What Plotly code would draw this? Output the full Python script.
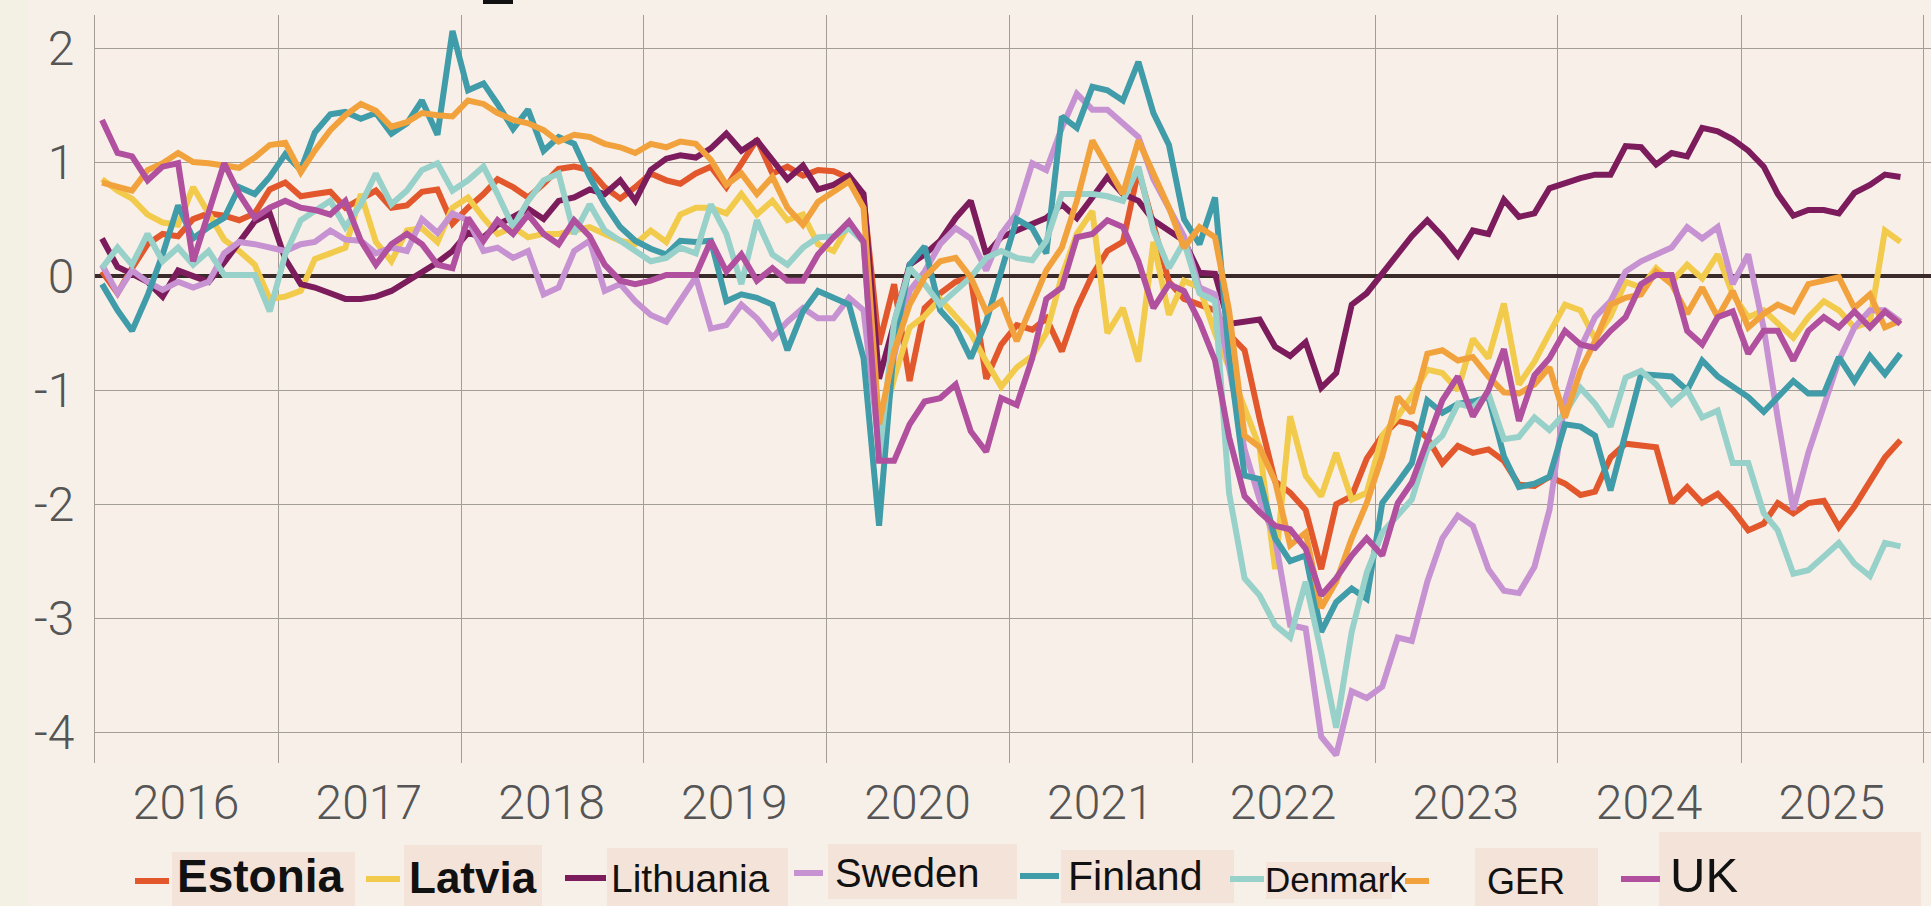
import plotly.graph_objects as go
import pandas as pd

# monthly observations, Jan 2016 .. Nov 2025 (mid-month)
months = pd.date_range("2016-01-01", periods=119, freq="MS") + pd.Timedelta(days=14)

estonia = [
    0.04, -0.15, 0.07, 0.28, 0.37, 0.35, 0.5, 0.55, 0.53, 0.49, 0.55, 0.76,
    0.82, 0.7, 0.72, 0.74, 0.6, 0.68, 0.75, 0.6, 0.62, 0.74, 0.76, 0.46,
    0.6, 0.72, 0.85, 0.78, 0.69, 0.81, 0.94, 0.96, 0.93, 0.78, 0.68, 0.78,
    0.9, 0.84, 0.81, 0.9, 0.96, 0.78, 0.99, 1.2, 0.9, 0.96, 0.88, 0.93,
    0.92, 0.86, 0.69, -0.6, -0.07, -0.92, -0.28, -0.15, -0.05, -0.01, -0.9, -0.6,
    -0.43, -0.47, -0.37, -0.66, -0.28, 0.01, 0.22, 0.3, 0.93, 0.45, -0.05, -0.2,
    -0.25, -0.3, -0.51, -0.65, -1.25, -1.8, -1.9, -2.05, -2.57, -2.0, -1.93, -1.6,
    -1.4, -1.27, -1.3, -1.42, -1.64, -1.49, -1.55, -1.52, -1.62, -1.83, -1.84, -1.76,
    -1.82, -1.92, -1.89, -1.59, -1.47, -1.48, -1.5, -1.99, -1.85, -1.99, -1.91, -2.05,
    -2.23, -2.17, -1.99, -2.08, -1.99, -1.97, -2.2, -2.02, -1.79, -1.59, -1.44,
]
latvia = [
    0.85, 0.75, 0.68, 0.54, 0.47, 0.45, 0.78, 0.55, 0.32, 0.22, 0.1, -0.2,
    -0.18, -0.13, 0.15, 0.2, 0.25, 0.72, 0.3, 0.13, 0.4, 0.42, 0.3, 0.6,
    0.69, 0.51, 0.37, 0.43, 0.34, 0.37, 0.37, 0.4, 0.43, 0.37, 0.31, 0.28,
    0.4, 0.3, 0.54, 0.6, 0.6, 0.55, 0.72, 0.54, 0.66, 0.49, 0.54, 0.28,
    0.22, 0.45, 0.3, -1.4, -0.9, -0.45, -0.35, -0.2, -0.35, -0.5, -0.75, -0.97,
    -0.8, -0.7, -0.5, 0.0, 0.37, 0.57, -0.5, -0.28, -0.75, 0.3, -0.34, -0.04,
    -0.1, -0.5, -0.8, -1.15, -1.5, -2.57, -1.23, -1.75, -1.93, -1.55, -1.96, -1.9,
    -1.4, -1.23, -1.05, -0.82, -0.85, -1.0, -0.55, -0.72, -0.24, -0.95, -0.75, -0.5,
    -0.25, -0.3, -0.55, -0.35, -0.05, -0.1, 0.07, -0.05, 0.1, -0.02, 0.19, -0.16,
    -0.36, -0.3, -0.42, -0.54, -0.36, -0.22, -0.3, -0.45, -0.4, 0.4, 0.3,
]
lithuania = [
    0.33, 0.08, 0.02, -0.05, -0.18, 0.05, 0.0, -0.05, 0.12, 0.3, 0.48, 0.55,
    0.15, -0.07, -0.1, -0.15, -0.2, -0.2, -0.18, -0.13, -0.05, 0.04, 0.12, 0.22,
    0.38, 0.34, 0.45, 0.52, 0.59, 0.5, 0.66, 0.69, 0.76, 0.72, 0.84, 0.66,
    0.93, 1.03, 1.06, 1.04, 1.12, 1.25, 1.1, 1.19, 1.01, 0.85, 0.97, 0.76,
    0.8, 0.88, 0.72, -0.9, -0.42, 0.1, 0.19, 0.31, 0.51, 0.66, 0.19, 0.34,
    0.4, 0.46, 0.51, 0.63, 0.51, 0.69, 0.87, 0.72, 0.66, 0.49, 0.4, 0.31,
    0.03, 0.02, -0.42, -0.4, -0.38, -0.62, -0.7, -0.58, -0.98, -0.85, -0.25, -0.15,
    0.02, 0.18, 0.35, 0.49, 0.35, 0.18, 0.4, 0.37, 0.67, 0.52, 0.55, 0.77,
    0.82, 0.86, 0.89, 0.89, 1.14, 1.13, 0.98, 1.08, 1.05, 1.3, 1.27, 1.2,
    1.1, 0.96, 0.72, 0.53, 0.58, 0.58, 0.55, 0.73, 0.8, 0.89, 0.87,
]
sweden = [
    0.1, -0.15, 0.05, -0.05, -0.12, -0.05, -0.1, -0.05, 0.2, 0.3, 0.28, 0.25,
    0.22, 0.28, 0.3, 0.4, 0.32, 0.31, 0.2, 0.25, 0.22, 0.5, 0.38, 0.55,
    0.49, 0.22, 0.25, 0.16, 0.22, -0.16, -0.1, 0.22, 0.31, -0.13, -0.07, -0.22,
    -0.34, -0.4, -0.22, -0.01, -0.46, -0.43, -0.25, -0.37, -0.54, -0.4, -0.28, -0.37,
    -0.37, -0.19, -0.3, -1.5, -0.7, -0.13, 0.04, 0.28, 0.42, 0.33, 0.05, 0.37,
    0.55, 0.99, 0.93, 1.3, 1.6, 1.46, 1.46, 1.34, 1.22, 0.85, 0.6, 0.35,
    -0.1, -0.16, -0.8, -1.52, -1.96, -2.3, -3.06, -3.09, -4.04, -4.2, -3.64, -3.7,
    -3.6, -3.17, -3.2, -2.68, -2.3, -2.1, -2.19, -2.57, -2.76, -2.78, -2.55, -2.05,
    -1.09, -0.63, -0.36, -0.22, 0.04, 0.13, 0.19, 0.25, 0.43, 0.33, 0.43, -0.07,
    0.19, -0.46, -1.25, -2.05, -1.55, -1.15, -0.74, -0.45, -0.3, -0.3, -0.4,
]
finland = [
    -0.07, -0.3, -0.48, -0.17, 0.19, 0.62, 0.33, 0.43, 0.51, 0.78, 0.72, 0.87,
    1.07, 0.93, 1.26, 1.42, 1.44, 1.38, 1.43, 1.25, 1.34, 1.54, 1.24, 2.15,
    1.63, 1.69, 1.51, 1.29, 1.46, 1.1, 1.22, 1.16, 0.87, 0.63, 0.43, 0.31,
    0.24, 0.19, 0.31, 0.3, 0.31, -0.22, -0.16, -0.19, -0.25, -0.65, -0.31, -0.13,
    -0.19, -0.25, -0.72, -2.19, -0.6, 0.1, 0.26, -0.3, -0.45, -0.72, -0.4, 0.05,
    0.5, 0.42, 0.2, 1.4, 1.3, 1.66, 1.63, 1.54, 1.88, 1.43, 1.15, 0.5,
    0.28, 0.69, -0.7, -1.75, -1.78, -2.3, -2.5, -2.45, -3.12, -2.86, -2.74, -2.83,
    -1.99, -1.81, -1.64, -1.09, -1.2, -1.12, -1.1, -1.06, -1.58, -1.85, -1.82, -1.76,
    -1.3, -1.32, -1.4, -1.88, -1.4, -0.86, -0.87, -0.88, -1.0, -0.74, -0.88, -0.97,
    -1.06, -1.19, -1.06, -0.92, -1.03, -1.03, -0.71, -0.92, -0.7, -0.86, -0.68,
]
denmark = [
    0.07, 0.25, 0.1, 0.37, 0.13, 0.25, 0.1, 0.22, 0.01, 0.01, 0.01, -0.31,
    0.19, 0.49, 0.57, 0.66, 0.43, 0.63, 0.9, 0.63, 0.75, 0.93, 0.99, 0.75,
    0.84, 0.96, 0.72, 0.43, 0.66, 0.84, 0.9, 0.37, 0.63, 0.4, 0.31, 0.22,
    0.13, 0.16, 0.25, 0.2, 0.63, 0.37, -0.07, 0.49, 0.19, 0.1, 0.25, 0.34,
    0.35, 0.42, 0.3, -1.6, -0.4, 0.07, -0.07, -0.25, -0.13, -0.01, 0.16, 0.22,
    0.16, 0.14, 0.31, 0.72, 0.72, 0.72, 0.7, 0.66, 0.96, 0.4, 0.07, 0.3,
    -0.15, -0.22, -1.9, -2.65, -2.8, -3.06, -3.17, -2.68, -3.3, -3.96, -3.12, -2.6,
    -2.25, -2.1, -1.96, -1.52, -1.4, -1.12, -1.15, -1.03, -1.43, -1.41, -1.24, -1.35,
    -1.2, -0.98, -1.12, -1.32, -0.89, -0.83, -0.95, -1.12, -1.0, -1.24, -1.18, -1.64,
    -1.64, -2.08, -2.23, -2.61, -2.58, -2.46, -2.34, -2.52, -2.63, -2.34, -2.37,
]
ger = [
    0.82, 0.79, 0.75, 0.93, 0.99, 1.08, 1.0, 0.99, 0.97, 0.95, 1.04, 1.15,
    1.17, 0.91, 1.1, 1.28, 1.41, 1.51, 1.45, 1.31, 1.35, 1.43, 1.41, 1.4,
    1.54, 1.51, 1.43, 1.37, 1.34, 1.28, 1.18, 1.24, 1.22, 1.16, 1.13, 1.08,
    1.16, 1.13, 1.18, 1.16, 1.02, 0.8, 0.9, 0.72, 0.87, 0.6, 0.45, 0.65,
    0.74, 0.83, 0.6, -1.3, -0.66, -0.25, -0.01, 0.13, 0.16, -0.01, -0.31, -0.22,
    -0.57, -0.25, 0.05, 0.25, 0.66, 1.19, 0.96, 0.72, 1.19, 0.9, 0.6, 0.25,
    0.43, 0.34, -0.3, -1.4, -1.5, -1.8, -2.36, -2.25, -2.91, -2.68, -2.3, -1.99,
    -1.58, -1.06, -1.2, -0.68, -0.65, -0.74, -0.71, -0.88, -1.02, -1.03, -0.95, -0.8,
    -1.24, -0.83, -0.57, -0.25, -0.19, -0.16, 0.04, -0.07, -0.33, -0.1, -0.36, -0.13,
    -0.45, -0.33, -0.25, -0.31, -0.07, -0.04, -0.01, -0.28, -0.16, -0.45, -0.39,
]
uk = [
    1.37, 1.08, 1.05, 0.84, 0.96, 0.99, 0.13, 0.54, 0.99, 0.72, 0.51, 0.6,
    0.66, 0.6, 0.58, 0.54, 0.66, 0.31, 0.1, 0.28, 0.37, 0.28, 0.1, 0.07,
    0.51, 0.31, 0.49, 0.37, 0.54, 0.37, 0.28, 0.49, 0.35, 0.1, -0.04, -0.07,
    -0.04, 0.01, 0.01, 0.01, 0.31, 0.04, 0.19, -0.04, 0.07, -0.04, -0.04, 0.19,
    0.34, 0.48, 0.3, -1.62, -1.62, -1.3, -1.1, -1.07, -0.95, -1.36, -1.54, -1.07,
    -1.13, -0.72, -0.2, -0.1, 0.34, 0.37, 0.49, 0.43, 0.13, -0.28, -0.07, -0.13,
    -0.4, -0.74, -1.41, -1.93, -2.07, -2.19, -2.22, -2.39, -2.8, -2.65, -2.45, -2.3,
    -2.45, -1.99, -1.81, -1.46, -1.09, -0.88, -1.23, -1.0, -0.64, -1.27, -0.87, -0.72,
    -0.48, -0.6, -0.63, -0.48, -0.36, -0.07, 0.01, 0.01, -0.48, -0.6, -0.36, -0.31,
    -0.68, -0.48, -0.48, -0.74, -0.48, -0.36, -0.45, -0.31, -0.45, -0.31, -0.42,
]

names = ["Estonia", "Latvia", "Lithuania", "Sweden", "Finland", "Denmark", "GER", "UK"]
series = [estonia, latvia, lithuania, sweden, finland, denmark, ger, uk]
colors = ["#E2582C", "#F2CA4C", "#7D1C5D", "#C792D2", "#3F9CA8", "#97D1C9", "#F2A23D", "#B0509E"]

year_labels = [str(y) for y in range(2016, 2026)]
year_mid = [f"{y}-07-01" for y in range(2016, 2026)]
y_ticks = [-4, -3, -2, -1, 0, 1, 2]
y_text = ["-4", "-3", "-2", "-1", "0", "1", "2"]

W, H = 1931, 906
L, R, T, B = 95, 0, 15, 143
PW, PH = W - L - R, H - T - B

def px(x):
    return (x - L) / PW

def py(y):
    return (H - B - y) / PH

fig = go.Figure()
for name, vals, col in zip(names, series, colors):
    fig.add_trace(go.Scatter(x=months, y=vals, mode="lines", name=name,
                             line=dict(color=col, width=6), showlegend=False))

grid = "#A39D97"
tick_font = dict(family="Roboto", size=48, color="#555555", weight=300)
fig.update_layout(
    width=W, height=H, autosize=False,
    margin=dict(l=L, r=R, t=T, b=B),
    paper_bgcolor="#F7F0E8", plot_bgcolor="#F8F0E8",
    xaxis=dict(range=["2016-01-01", "2026-01-15"], tickmode="array",
               tickvals=year_mid, ticktext=year_labels, showgrid=False, ticks="",
               zeroline=False, ticklabelstandoff=7, tickfont=tick_font,
               minor=dict(dtick="M12", tick0="2016-01-01", showgrid=True,
                          gridcolor=grid, gridwidth=1.2, ticks="")),
    yaxis=dict(range=[-4.27, 2.29], tickmode="array", tickvals=y_ticks, ticktext=y_text,
               showgrid=True, gridcolor=grid, gridwidth=1.2, ticks="",
               zeroline=True, zerolinecolor="#3B2A2A", zerolinewidth=3.5,
               showline=True, linecolor=grid, linewidth=1.2, ticklabelstandoff=10,
               tickfont=tick_font),
)

shapes = []
annotations = []
# left strip tint and small mark at top
shapes.append(dict(type="rect", xref="paper", yref="paper", x0=px(0), x1=px(27),
                   y0=py(H), y1=py(0), fillcolor="#F3F0E4", line=dict(width=0), layer="below"))
shapes.append(dict(type="rect", xref="paper", yref="paper", x0=px(483), x1=px(513),
                   y0=py(4), y1=py(0), fillcolor="#111111", line=dict(width=0)))

# custom legend: (name, color, swatch x0, x1, text left, size, bold, box x0, x1, y0, y1, y centre)
legend_items = [
    ("Estonia", colors[0], 135, 169, 176, 46, True, 172, 355, 852, 906, 879),
    ("Latvia", colors[1], 366, 400, 408, 44, True, 404, 542, 845, 906, 877),
    ("Lithuania", colors[2], 565, 606, 610, 39, False, 607, 788, 848, 906, 876),
    ("Sweden", colors[3], 794, 823, 834, 40, False, 828, 1017, 844, 899, 871),
    ("Finland", colors[4], 1020, 1059, 1067, 41, False, 1061, 1234, 850, 903, 874),
    ("Denmark", colors[5], 1230, 1264, 1264, 35, False, 1266, 1392, 862, 899, 877),
    ("GER", colors[6], 1405, 1429, 1486, 36, False, 1475, 1598, 848, 906, 879),
    ("UK", colors[7], 1621, 1660, 1669, 49, False, 1659, 1921, 832, 906, 877),
]
for (nm, col, sx0, sx1, tx, size, bold, bx0, bx1, by0, by1, yc) in legend_items:
    shapes.append(dict(type="rect", xref="paper", yref="paper", x0=px(bx0), x1=px(bx1),
                       y0=py(by1), y1=py(by0), fillcolor="#F3E3D9", line=dict(width=0),
                       layer="below"))
    shapes.append(dict(type="line", xref="paper", yref="paper", x0=px(sx0), x1=px(sx1),
                       y0=py(yc + 2), y1=py(yc + 2), line=dict(color=col, width=6)))
    ty = min(yc + 2, H - 0.6 * size - 2)
    annotations.append(dict(xref="paper", yref="paper", x=px(tx), y=py(ty),
                            xanchor="left", yanchor="middle", showarrow=False,
                            text=f"<b>{nm}</b>" if bold else nm, borderpad=0,
                            font=dict(family="Liberation Sans, Arial", size=size, color="#111111")))

fig.update_layout(shapes=shapes, annotations=annotations)
fig.write_html("out.html", config={"displayModeBar": False},
               post_script="document.body.style.margin='0px';")
